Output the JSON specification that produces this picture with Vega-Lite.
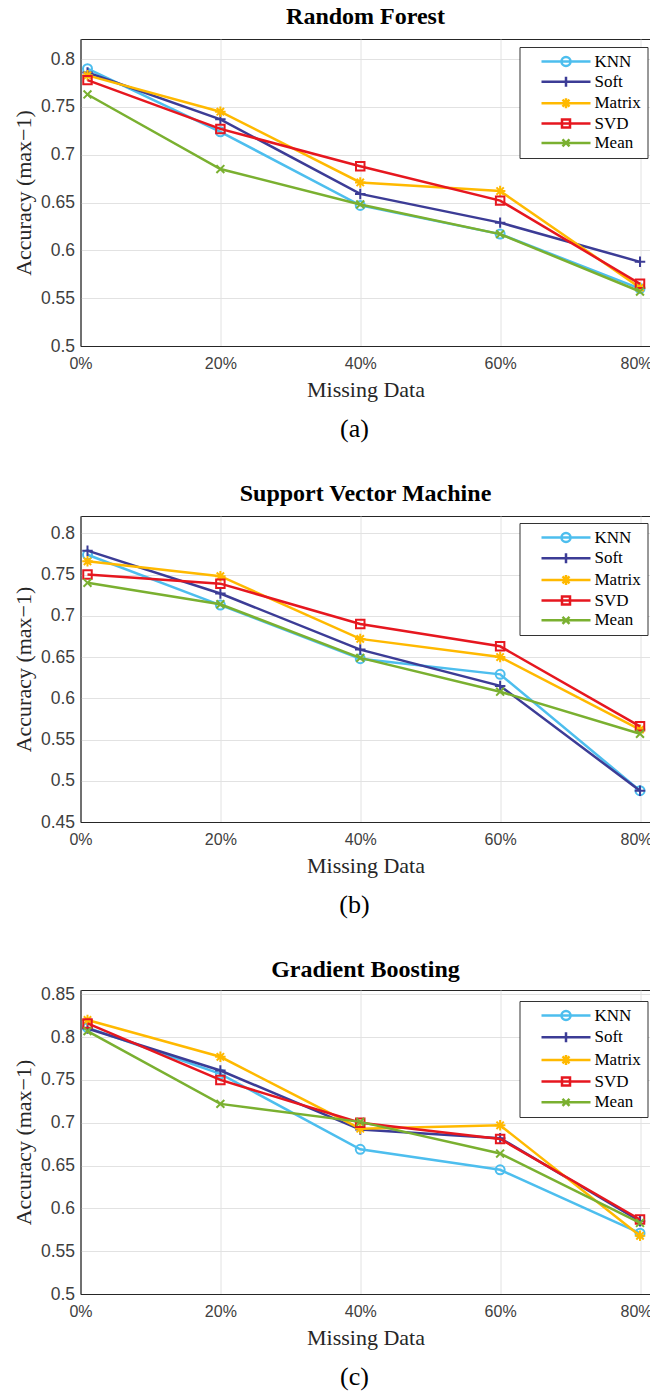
{
  "$schema": "https://vega.github.io/schema/vega-lite/v6.json",
  "padding": {"left": 11.5, "top": 4, "right": 1.5, "bottom": 4},
  "background": "white",
  "datasets": {
    "rf": [
      {"method": "KNN", "missing": 1, "acc": 0.790}, {"method": "KNN", "missing": 20, "acc": 0.724}, {"method": "KNN", "missing": 40, "acc": 0.647}, {"method": "KNN", "missing": 60, "acc": 0.617}, {"method": "KNN", "missing": 80, "acc": 0.560},
      {"method": "Soft", "missing": 1, "acc": 0.786}, {"method": "Soft", "missing": 20, "acc": 0.737}, {"method": "Soft", "missing": 40, "acc": 0.659}, {"method": "Soft", "missing": 60, "acc": 0.629}, {"method": "Soft", "missing": 80, "acc": 0.588},
      {"method": "Matrix", "missing": 1, "acc": 0.783}, {"method": "Matrix", "missing": 20, "acc": 0.745}, {"method": "Matrix", "missing": 40, "acc": 0.671}, {"method": "Matrix", "missing": 60, "acc": 0.662}, {"method": "Matrix", "missing": 80, "acc": 0.561},
      {"method": "SVD", "missing": 1, "acc": 0.778}, {"method": "SVD", "missing": 20, "acc": 0.727}, {"method": "SVD", "missing": 40, "acc": 0.688}, {"method": "SVD", "missing": 60, "acc": 0.652}, {"method": "SVD", "missing": 80, "acc": 0.565},
      {"method": "Mean", "missing": 1, "acc": 0.763}, {"method": "Mean", "missing": 20, "acc": 0.685}, {"method": "Mean", "missing": 40, "acc": 0.648}, {"method": "Mean", "missing": 60, "acc": 0.617}, {"method": "Mean", "missing": 80, "acc": 0.557}
    ],
    "svm": [
      {"method": "KNN", "missing": 1, "acc": 0.774}, {"method": "KNN", "missing": 20, "acc": 0.713}, {"method": "KNN", "missing": 40, "acc": 0.648}, {"method": "KNN", "missing": 60, "acc": 0.629}, {"method": "KNN", "missing": 80, "acc": 0.488},
      {"method": "Soft", "missing": 1, "acc": 0.779}, {"method": "Soft", "missing": 20, "acc": 0.727}, {"method": "Soft", "missing": 40, "acc": 0.659}, {"method": "Soft", "missing": 60, "acc": 0.615}, {"method": "Soft", "missing": 80, "acc": 0.488},
      {"method": "Matrix", "missing": 1, "acc": 0.766}, {"method": "Matrix", "missing": 20, "acc": 0.748}, {"method": "Matrix", "missing": 40, "acc": 0.672}, {"method": "Matrix", "missing": 60, "acc": 0.650}, {"method": "Matrix", "missing": 80, "acc": 0.562},
      {"method": "SVD", "missing": 1, "acc": 0.750}, {"method": "SVD", "missing": 20, "acc": 0.739}, {"method": "SVD", "missing": 40, "acc": 0.690}, {"method": "SVD", "missing": 60, "acc": 0.663}, {"method": "SVD", "missing": 80, "acc": 0.566},
      {"method": "Mean", "missing": 1, "acc": 0.740}, {"method": "Mean", "missing": 20, "acc": 0.714}, {"method": "Mean", "missing": 40, "acc": 0.649}, {"method": "Mean", "missing": 60, "acc": 0.608}, {"method": "Mean", "missing": 80, "acc": 0.557}
    ],
    "gb": [
      {"method": "KNN", "missing": 1, "acc": 0.811}, {"method": "KNN", "missing": 20, "acc": 0.757}, {"method": "KNN", "missing": 40, "acc": 0.669}, {"method": "KNN", "missing": 60, "acc": 0.645}, {"method": "KNN", "missing": 80, "acc": 0.571},
      {"method": "Soft", "missing": 1, "acc": 0.810}, {"method": "Soft", "missing": 20, "acc": 0.761}, {"method": "Soft", "missing": 40, "acc": 0.692}, {"method": "Soft", "missing": 60, "acc": 0.682}, {"method": "Soft", "missing": 80, "acc": 0.585},
      {"method": "Matrix", "missing": 1, "acc": 0.820}, {"method": "Matrix", "missing": 20, "acc": 0.777}, {"method": "Matrix", "missing": 40, "acc": 0.693}, {"method": "Matrix", "missing": 60, "acc": 0.697}, {"method": "Matrix", "missing": 80, "acc": 0.568},
      {"method": "SVD", "missing": 1, "acc": 0.816}, {"method": "SVD", "missing": 20, "acc": 0.750}, {"method": "SVD", "missing": 40, "acc": 0.700}, {"method": "SVD", "missing": 60, "acc": 0.681}, {"method": "SVD", "missing": 80, "acc": 0.587},
      {"method": "Mean", "missing": 1, "acc": 0.807}, {"method": "Mean", "missing": 20, "acc": 0.722}, {"method": "Mean", "missing": 40, "acc": 0.701}, {"method": "Mean", "missing": 60, "acc": 0.664}, {"method": "Mean", "missing": 80, "acc": 0.583}
    ]
  },
  "spacing": 39,
  "resolve": {"scale": {"x": "independent", "y": "independent", "color": "independent", "shape": "independent"}},
  "vconcat": [
    {
      "title": {"text": "(a)", "orient": "bottom", "font": "Liberation Serif", "fontSize": 26, "fontWeight": "normal", "color": "#000000", "offset": 15, "anchor": "middle", "frame": "group", "dx": 274},
      "resolve": {"scale": {"x": "independent", "y": "independent", "color": "independent", "shape": "independent"}},
      "vconcat": [
        {
          "width": 570, "height": 307,
          "title": {"text": "Random Forest", "font": "Liberation Serif", "fontSize": 24, "fontWeight": "bold", "color": "#000000", "offset": 10, "anchor": "middle"},
          "data": {"name": "rf"},
          "encoding": {
            "x": {"field": "missing", "type": "quantitative", "scale": {"domain": [0, 81.5], "nice": false, "zero": false}, "axis": {"values": [0, 20, 40, 60, 80], "labelExpr": "datum.value + '%'", "title": "Missing Data", "grid": true, "labelFlush": false, "labelOffset": {"condition": {"test": "datum.value == 80", "value": -4}, "value": 0}}},
            "y": {"field": "acc", "type": "quantitative", "scale": {"domain": [0.5, 0.821], "nice": false, "zero": false}, "axis": {"values": [0.5, 0.55, 0.6, 0.65, 0.7, 0.75, 0.8], "format": ".2~f", "title": "Accuracy (max−1)", "grid": true, "labelFlush": false}}
          },
          "layer": [
            {"transform": [{"filter": "datum.method == 'KNN'"}], "layer": [
              {"mark": {"type": "line", "color": "#4DBEEE", "strokeWidth": 2.5}, "encoding": {}},
              {"mark": {"type": "point", "shape": "circle", "size": 81, "filled": false, "color": "#4DBEEE", "strokeWidth": 2, "opacity": 1}}]},
            {"transform": [{"filter": "datum.method == 'Soft'"}], "layer": [
              {"mark": {"type": "line", "color": "#3C3C96", "strokeWidth": 2.5}, "encoding": {}},
              {"mark": {"type": "point", "shape": "M-1,0L1,0M0,-1L0,1", "size": 110, "filled": false, "color": "#3C3C96", "strokeWidth": 2, "opacity": 1}}]},
            {"transform": [{"filter": "datum.method == 'Matrix'"}], "layer": [
              {"mark": {"type": "line", "color": "#FFB900", "strokeWidth": 2.5}, "encoding": {}},
              {"mark": {"type": "point", "shape": "M-1,0L1,0M0,-1L0,1M-0.7,-0.7L0.7,0.7M-0.7,0.7L0.7,-0.7", "size": 110, "filled": false, "color": "#FFB900", "strokeWidth": 2, "opacity": 1}}]},
            {"transform": [{"filter": "datum.method == 'SVD'"}], "layer": [
              {"mark": {"type": "line", "color": "#E6171F", "strokeWidth": 2.5}, "encoding": {}},
              {"mark": {"type": "point", "shape": "square", "size": 72, "filled": false, "color": "#E6171F", "strokeWidth": 2, "opacity": 1}}]},
            {"transform": [{"filter": "datum.method == 'Mean'"}], "layer": [
              {"mark": {"type": "line", "color": "#7AB030", "strokeWidth": 2.5}, "encoding": {}},
              {"mark": {"type": "point", "shape": "M-0.75,-0.75L0.75,0.75M-0.75,0.75L0.75,-0.75", "size": 110, "filled": false, "color": "#7AB030", "strokeWidth": 2, "opacity": 1}}]},
            {"transform": [{"filter": "false"}], "mark": {"type": "point", "filled": false, "strokeWidth": 2.5, "opacity": 1},
             "encoding": {
               "color": {"field": "method", "type": "nominal", "scale": {"domain": ["KNN", "Soft", "Matrix", "SVD", "Mean"], "range": ["#4DBEEE", "#3C3C96", "#FFB900", "#E6171F", "#7AB030"]},
                 "legend": {"title": null, "orient": "none", "legendX": 439, "legendY": 8, "direction": "vertical", "symbolSize": 100, "rowPadding": 0.35, "padding": 6, "symbolOffset": 32, "labelOffset": 20, "labelFont": "Liberation Serif", "labelFontSize": 17, "labelColor": "#000000", "fillColor": "white", "strokeColor": "#333333", "symbolStrokeWidth": 2.5, "symbolOpacity": 1, "cornerRadius": 0}},
               "shape": {"field": "method", "type": "nominal", "scale": {"domain": ["KNN", "Soft", "Matrix", "SVD", "Mean"], "range": ["M-4.9,0L4.9,0M-0.9,0A0.9,0.9,0,1,1,0.9,0A0.9,0.9,0,1,1,-0.9,0", "M-4.9,0L4.9,0M0,-1L0,1", "M-4.9,0L4.9,0M0,-1L0,1M-0.7,-0.7L0.7,0.7M-0.7,0.7L0.7,-0.7", "M-4.9,0L4.9,0M-0.8,-0.8L0.8,-0.8L0.8,0.8L-0.8,0.8Z", "M-4.9,0L4.9,0M-0.7,-0.7L0.7,0.7M-0.7,0.7L0.7,-0.7"]},
                 "legend": {"title": null, "orient": "none", "legendX": 439, "legendY": 8, "direction": "vertical", "symbolSize": 100, "rowPadding": 0.35, "padding": 6, "symbolOffset": 32, "labelOffset": 20, "labelFont": "Liberation Serif", "labelFontSize": 17, "labelColor": "#000000", "fillColor": "white", "strokeColor": "#333333", "symbolStrokeWidth": 2.5, "symbolOpacity": 1, "cornerRadius": 0}}
             }}
          ]
        }
      ]
    },
    {
      "title": {"text": "(b)", "orient": "bottom", "font": "Liberation Serif", "fontSize": 26, "fontWeight": "normal", "color": "#000000", "offset": 15, "anchor": "middle", "frame": "group", "dx": 274},
      "resolve": {"scale": {"x": "independent", "y": "independent", "color": "independent", "shape": "independent"}},
      "vconcat": [
        {
          "width": 570, "height": 306,
          "title": {"text": "Support Vector Machine", "font": "Liberation Serif", "fontSize": 24, "fontWeight": "bold", "color": "#000000", "offset": 10, "anchor": "middle"},
          "data": {"name": "svm"},
          "encoding": {
            "x": {"field": "missing", "type": "quantitative", "scale": {"domain": [0, 81.5], "nice": false, "zero": false}, "axis": {"values": [0, 20, 40, 60, 80], "labelExpr": "datum.value + '%'", "title": "Missing Data", "grid": true, "labelFlush": false, "labelOffset": {"condition": {"test": "datum.value == 80", "value": -4}, "value": 0}}},
            "y": {"field": "acc", "type": "quantitative", "scale": {"domain": [0.45, 0.821], "nice": false, "zero": false}, "axis": {"values": [0.45, 0.5, 0.55, 0.6, 0.65, 0.7, 0.75, 0.8], "format": ".2~f", "title": "Accuracy (max−1)", "grid": true, "labelFlush": false}}
          },
          "layer": [
            {"transform": [{"filter": "datum.method == 'KNN'"}], "layer": [
              {"mark": {"type": "line", "color": "#4DBEEE", "strokeWidth": 2.5}, "encoding": {}},
              {"mark": {"type": "point", "shape": "circle", "size": 81, "filled": false, "color": "#4DBEEE", "strokeWidth": 2, "opacity": 1}}]},
            {"transform": [{"filter": "datum.method == 'Soft'"}], "layer": [
              {"mark": {"type": "line", "color": "#3C3C96", "strokeWidth": 2.5}, "encoding": {}},
              {"mark": {"type": "point", "shape": "M-1,0L1,0M0,-1L0,1", "size": 110, "filled": false, "color": "#3C3C96", "strokeWidth": 2, "opacity": 1}}]},
            {"transform": [{"filter": "datum.method == 'Matrix'"}], "layer": [
              {"mark": {"type": "line", "color": "#FFB900", "strokeWidth": 2.5}, "encoding": {}},
              {"mark": {"type": "point", "shape": "M-1,0L1,0M0,-1L0,1M-0.7,-0.7L0.7,0.7M-0.7,0.7L0.7,-0.7", "size": 110, "filled": false, "color": "#FFB900", "strokeWidth": 2, "opacity": 1}}]},
            {"transform": [{"filter": "datum.method == 'SVD'"}], "layer": [
              {"mark": {"type": "line", "color": "#E6171F", "strokeWidth": 2.5}, "encoding": {}},
              {"mark": {"type": "point", "shape": "square", "size": 72, "filled": false, "color": "#E6171F", "strokeWidth": 2, "opacity": 1}}]},
            {"transform": [{"filter": "datum.method == 'Mean'"}], "layer": [
              {"mark": {"type": "line", "color": "#7AB030", "strokeWidth": 2.5}, "encoding": {}},
              {"mark": {"type": "point", "shape": "M-0.75,-0.75L0.75,0.75M-0.75,0.75L0.75,-0.75", "size": 110, "filled": false, "color": "#7AB030", "strokeWidth": 2, "opacity": 1}}]},
            {"transform": [{"filter": "false"}], "mark": {"type": "point", "filled": false, "strokeWidth": 2.5, "opacity": 1},
             "encoding": {
               "color": {"field": "method", "type": "nominal", "scale": {"domain": ["KNN", "Soft", "Matrix", "SVD", "Mean"], "range": ["#4DBEEE", "#3C3C96", "#FFB900", "#E6171F", "#7AB030"]},
                 "legend": {"title": null, "orient": "none", "legendX": 439, "legendY": 7, "direction": "vertical", "symbolSize": 100, "rowPadding": 0.7, "padding": 6, "symbolOffset": 32, "labelOffset": 20, "labelFont": "Liberation Serif", "labelFontSize": 17, "labelColor": "#000000", "fillColor": "white", "strokeColor": "#333333", "symbolStrokeWidth": 2.5, "symbolOpacity": 1, "cornerRadius": 0}},
               "shape": {"field": "method", "type": "nominal", "scale": {"domain": ["KNN", "Soft", "Matrix", "SVD", "Mean"], "range": ["M-4.9,0L4.9,0M-0.9,0A0.9,0.9,0,1,1,0.9,0A0.9,0.9,0,1,1,-0.9,0", "M-4.9,0L4.9,0M0,-1L0,1", "M-4.9,0L4.9,0M0,-1L0,1M-0.7,-0.7L0.7,0.7M-0.7,0.7L0.7,-0.7", "M-4.9,0L4.9,0M-0.8,-0.8L0.8,-0.8L0.8,0.8L-0.8,0.8Z", "M-4.9,0L4.9,0M-0.7,-0.7L0.7,0.7M-0.7,0.7L0.7,-0.7"]},
                 "legend": {"title": null, "orient": "none", "legendX": 439, "legendY": 7, "direction": "vertical", "symbolSize": 100, "rowPadding": 0.7, "padding": 6, "symbolOffset": 32, "labelOffset": 20, "labelFont": "Liberation Serif", "labelFontSize": 17, "labelColor": "#000000", "fillColor": "white", "strokeColor": "#333333", "symbolStrokeWidth": 2.5, "symbolOpacity": 1, "cornerRadius": 0}}
             }}
          ]
        }
      ]
    },
    {
      "title": {"text": "(c)", "orient": "bottom", "font": "Liberation Serif", "fontSize": 26, "fontWeight": "normal", "color": "#000000", "offset": 15, "anchor": "middle", "frame": "group", "dx": 274},
      "resolve": {"scale": {"x": "independent", "y": "independent", "color": "independent", "shape": "independent"}},
      "vconcat": [
        {
          "width": 570, "height": 304,
          "title": {"text": "Gradient Boosting", "font": "Liberation Serif", "fontSize": 24, "fontWeight": "bold", "color": "#000000", "offset": 3, "anchor": "middle"},
          "data": {"name": "gb"},
          "encoding": {
            "x": {"field": "missing", "type": "quantitative", "scale": {"domain": [0, 81.5], "nice": false, "zero": false}, "axis": {"values": [0, 20, 40, 60, 80], "labelExpr": "datum.value + '%'", "title": "Missing Data", "grid": true, "labelFlush": false, "labelOffset": {"condition": {"test": "datum.value == 80", "value": -4}, "value": 0}}},
            "y": {"field": "acc", "type": "quantitative", "scale": {"domain": [0.5, 0.855], "nice": false, "zero": false}, "axis": {"values": [0.5, 0.55, 0.6, 0.65, 0.7, 0.75, 0.8, 0.85], "format": ".2~f", "title": "Accuracy (max−1)", "grid": true, "labelFlush": false}}
          },
          "layer": [
            {"transform": [{"filter": "datum.method == 'KNN'"}], "layer": [
              {"mark": {"type": "line", "color": "#4DBEEE", "strokeWidth": 2.5}, "encoding": {}},
              {"mark": {"type": "point", "shape": "circle", "size": 81, "filled": false, "color": "#4DBEEE", "strokeWidth": 2, "opacity": 1}}]},
            {"transform": [{"filter": "datum.method == 'Soft'"}], "layer": [
              {"mark": {"type": "line", "color": "#3C3C96", "strokeWidth": 2.5}, "encoding": {}},
              {"mark": {"type": "point", "shape": "M-1,0L1,0M0,-1L0,1", "size": 110, "filled": false, "color": "#3C3C96", "strokeWidth": 2, "opacity": 1}}]},
            {"transform": [{"filter": "datum.method == 'Matrix'"}], "layer": [
              {"mark": {"type": "line", "color": "#FFB900", "strokeWidth": 2.5}, "encoding": {}},
              {"mark": {"type": "point", "shape": "M-1,0L1,0M0,-1L0,1M-0.7,-0.7L0.7,0.7M-0.7,0.7L0.7,-0.7", "size": 110, "filled": false, "color": "#FFB900", "strokeWidth": 2, "opacity": 1}}]},
            {"transform": [{"filter": "datum.method == 'SVD'"}], "layer": [
              {"mark": {"type": "line", "color": "#E6171F", "strokeWidth": 2.5}, "encoding": {}},
              {"mark": {"type": "point", "shape": "square", "size": 72, "filled": false, "color": "#E6171F", "strokeWidth": 2, "opacity": 1}}]},
            {"transform": [{"filter": "datum.method == 'Mean'"}], "layer": [
              {"mark": {"type": "line", "color": "#7AB030", "strokeWidth": 2.5}, "encoding": {}},
              {"mark": {"type": "point", "shape": "M-0.75,-0.75L0.75,0.75M-0.75,0.75L0.75,-0.75", "size": 110, "filled": false, "color": "#7AB030", "strokeWidth": 2, "opacity": 1}}]},
            {"transform": [{"filter": "false"}], "mark": {"type": "point", "filled": false, "strokeWidth": 2.5, "opacity": 1},
             "encoding": {
               "color": {"field": "method", "type": "nominal", "scale": {"domain": ["KNN", "Soft", "Matrix", "SVD", "Mean"], "range": ["#4DBEEE", "#3C3C96", "#FFB900", "#E6171F", "#7AB030"]},
                 "legend": {"title": null, "orient": "none", "legendX": 439, "legendY": 11, "direction": "vertical", "symbolSize": 100, "rowPadding": 1.7, "padding": 6, "symbolOffset": 32, "labelOffset": 20, "labelFont": "Liberation Serif", "labelFontSize": 17, "labelColor": "#000000", "fillColor": "white", "strokeColor": "#333333", "symbolStrokeWidth": 2.5, "symbolOpacity": 1, "cornerRadius": 0}},
               "shape": {"field": "method", "type": "nominal", "scale": {"domain": ["KNN", "Soft", "Matrix", "SVD", "Mean"], "range": ["M-4.9,0L4.9,0M-0.9,0A0.9,0.9,0,1,1,0.9,0A0.9,0.9,0,1,1,-0.9,0", "M-4.9,0L4.9,0M0,-1L0,1", "M-4.9,0L4.9,0M0,-1L0,1M-0.7,-0.7L0.7,0.7M-0.7,0.7L0.7,-0.7", "M-4.9,0L4.9,0M-0.8,-0.8L0.8,-0.8L0.8,0.8L-0.8,0.8Z", "M-4.9,0L4.9,0M-0.7,-0.7L0.7,0.7M-0.7,0.7L0.7,-0.7"]},
                 "legend": {"title": null, "orient": "none", "legendX": 439, "legendY": 11, "direction": "vertical", "symbolSize": 100, "rowPadding": 1.7, "padding": 6, "symbolOffset": 32, "labelOffset": 20, "labelFont": "Liberation Serif", "labelFontSize": 17, "labelColor": "#000000", "fillColor": "white", "strokeColor": "#333333", "symbolStrokeWidth": 2.5, "symbolOpacity": 1, "cornerRadius": 0}}
             }}
          ]
        }
      ]
    }
  ],
  "config": {
    "view": {"stroke": "#262626", "strokeWidth": 1},
    "axis": {"domainColor": "#262626", "gridColor": "#E2E2E2", "ticks": false, "labelFont": "Liberation Sans", "labelColor": "#404040", "titleFont": "Liberation Serif", "titleFontSize": 22, "titleFontWeight": "normal", "titleColor": "#262626", "labelOverlap": false},
    "axisX": {"labelPadding": 9, "titlePadding": 8, "labelFontSize": 16},
    "axisY": {"labelPadding": 6, "titlePadding": 4.5, "labelFontSize": 17.5}
  }
}
